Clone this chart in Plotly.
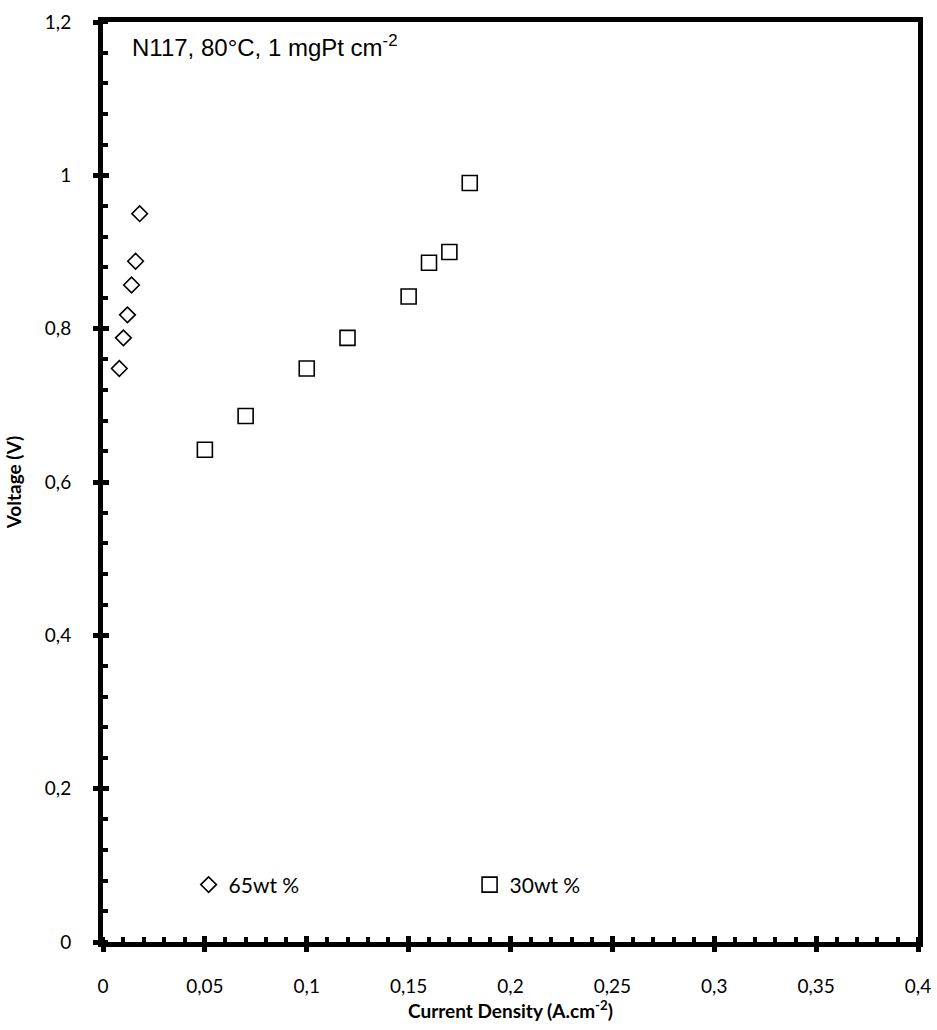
import plotly.graph_objects as go

# Data
x_65 = [0.008, 0.010, 0.012, 0.014, 0.016, 0.018]
v_65 = [0.748, 0.788, 0.818, 0.857, 0.888, 0.950]
x_30 = [0.05, 0.07, 0.10, 0.12, 0.15, 0.16, 0.17, 0.18]
v_30 = [0.642, 0.686, 0.748, 0.788, 0.842, 0.886, 0.900, 0.990]

FONT = "Lato, Open Sans, sans-serif"
tick_font = dict(family=FONT, size=19, color="black")
title_font = dict(family=FONT, size=19, color="black")

fig = go.Figure()
fig.add_trace(go.Scatter(x=x_65, y=v_65, mode="markers", name="65wt %",
                         marker=dict(symbol="diamond-open", size=12, color="black",
                                     line=dict(width=1.6, color="black"))))
fig.add_trace(go.Scatter(x=x_30, y=v_30, mode="markers", name="30wt %",
                         marker=dict(symbol="square-open", size=15, color="black",
                                     line=dict(width=1.6, color="black"))))

fig.update_layout(
    width=937, height=1030,
    margin=dict(l=103, r=19, t=22, b=88, autoexpand=False),
    paper_bgcolor="white", plot_bgcolor="white",
    separators=", ",
    font=tick_font,
    showlegend=True,
    legend=dict(orientation="h", x=0.105, y=0.062, xanchor="left", yanchor="middle",
                font=dict(family=FONT, size=21, color="black"),
                bgcolor="rgba(0,0,0,0)", itemwidth=30, entrywidth=236),
    xaxis=dict(range=[0, 0.4], dtick=0.05, tick0=0, automargin=False,
               showgrid=False, zeroline=False,
               showline=True, linecolor="black", linewidth=5, mirror=True,
               ticks="outside", ticklen=5, tickwidth=5, tickcolor="black",
               minor=dict(dtick=0.01, ticks="inside", ticklen=5, tickwidth=4, tickcolor="black"),
               tickfont=tick_font, ticklabelstandoff=18,
               title=dict(text="<b>Current Density (A.cm<sup>-2</sup>)</b>",
                          font=title_font, standoff=1)),
    yaxis=dict(range=[0, 1.2], dtick=0.2, tick0=0, automargin=False,
               showgrid=False, zeroline=False,
               showline=True, linecolor="black", linewidth=5, mirror=True,
               ticks="outside", ticklen=5, tickwidth=5, tickcolor="black",
               minor=dict(dtick=0.04, ticks="inside", ticklen=5, tickwidth=4, tickcolor="black"),
               tickfont=tick_font, ticklabelstandoff=18,
               title=dict(text="<b>Voltage (V)</b>",
                          font=title_font, standoff=20)),
    xaxis2=dict(overlaying="x", matches="x", side="bottom", anchor="y", automargin=False,
                range=[0, 0.4], dtick=0.05, tick0=0, showgrid=False, zeroline=False,
                showline=False, showticklabels=False,
                ticks="inside", ticklen=6, tickwidth=5, tickcolor="black"),
    yaxis2=dict(overlaying="y", matches="y", side="left", anchor="x", automargin=False,
                range=[0, 1.2], dtick=0.2, tick0=0, showgrid=False, zeroline=False,
                showline=False, showticklabels=False,
                ticks="inside", ticklen=6, tickwidth=5, tickcolor="black"),
)

# invisible trace to activate overlay axes
fig.add_trace(go.Scatter(x=[None], y=[None], xaxis="x2", yaxis="y2",
                         showlegend=False, hoverinfo="skip"))

fig.add_annotation(text="N117, 80°C, 1 mgPt cm<sup>-2</sup>",
                   xref="paper", yref="paper", x=0.033, y=0.992,
                   xanchor="left", yanchor="top", showarrow=False,
                   font=dict(family="Liberation Sans, Arial, sans-serif", size=24, color="black"))

fig.write_html("out.html")
